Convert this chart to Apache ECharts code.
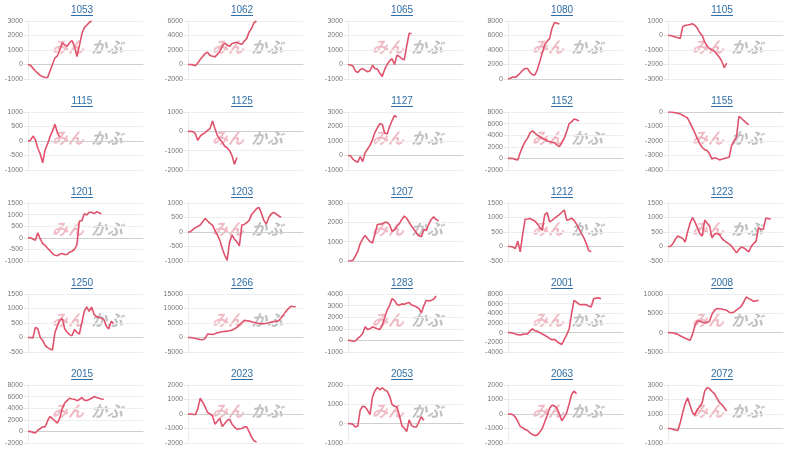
<!DOCTYPE html>
<html><head><meta charset="utf-8">
<script src="https://cdn.jsdelivr.net/npm/echarts/dist/echarts.min.js"></script>
<style>html,body{margin:0;padding:0;background:#fff}#c{width:800px;height:455px}</style>
</head><body><div id="c"></div>
<script>
const codes = ['1053','1062','1065','1080','1105','1115','1125','1127','1152','1155','1201','1203','1207','1212','1223','1250','1266','1283','2001','2008','2015','2023','2053','2063','2072'];
const slots = Array.from({length: 48}, (_, i) => String(i + 1));
const yMins  = [-1000,-2000,-1000,0,-3000, -1000,-2000,-1000,-2000,-4000, -1000,-1000,0,-500,-500, -500,-5000,-1000,-4000,-5000, -2000,-2000,-1000,-2000,-1000];
const yMaxs  = [3000,6000,3000,8000,1000, 1000,1000,3000,8000,0, 1500,1000,3000,1500,1500, 1500,15000,4000,8000,10000, 8000,2000,2000,2000,3000];
const ySteps = [1000,2000,1000,2000,1000, 500,1000,1000,2000,1000, 500,500,1000,500,500, 500,5000,1000,2000,5000, 2000,1000,1000,1000,1000];

const v1053 = [0,-50,-250,-450,-600,-750,-850,-900,-900,-450,0,450,600,1000,1500,1350,1250,1500,1650,1250,550,1300,2100,2550,2700,2900,3000];
const v1062 = [0,0,-50,-180,200,700,1100,1500,1700,1250,1150,1050,1400,1800,2500,2950,2700,2500,2900,3000,3050,2900,2800,3200,3600,4500,5000,5800,6000];
const v1065 = [0,-30,-100,-450,-550,-350,-280,-400,-500,-430,-50,-280,-320,-600,-820,-320,0,250,400,0,640,550,400,320,1280,2150,2120];
const v1080 = [0,100,300,200,500,830,1200,1450,1440,900,600,550,1300,2400,3600,4760,5200,5600,7000,7800,7700,7580];
const v1105 = [0,0,-50,-100,-150,-200,600,700,720,760,810,700,500,180,0,-460,-740,-900,-1000,-1090,-1300,-1500,-1780,-2220,-1900];
const v1115 = [0,20,170,50,-250,-450,-750,-300,-100,150,345,575,290,130];
const v1125 = [0,0,-20,-120,-470,-250,-150,-70,50,140,540,150,-210,-400,-560,-770,-850,-1000,-1260,-1700,-1350];
const v1127 = [0,-20,-250,-380,-460,-70,-420,200,450,700,1080,1590,1900,2190,2150,1550,1480,2000,2400,2750,2660];
const v1152 = [0,0,-30,-200,-290,1000,2030,2900,3500,4400,4750,4350,4000,3770,3400,3300,3000,2900,2750,2720,2300,2030,2700,3500,4640,6000,6300,6780,6670,6430];
const v1155 = [0,0,-20,-50,-90,-130,-220,-320,-415,-750,-1100,-1450,-1850,-2200,-2450,-2600,-2660,-2900,-3250,-3150,-3200,-3300,-3260,-3210,-3150,-3120,-2300,-2000,-1700,-300,-430,-600,-750,-880];
const v1201 = [0,0,-50,-110,220,-50,-250,-330,-450,-550,-680,-750,-770,-710,-680,-720,-720,-620,-580,-500,-300,725,725,1040,980,1100,1100,1040,1120,1080,1040];
const v1203 = [0,10,80,150,190,240,350,470,380,300,240,60,-100,-280,-570,-800,-980,-340,-100,-250,-340,-480,240,260,320,400,600,700,800,850,650,400,270,500,620,680,620,560,510];
const v1207 = [0,10,35,250,500,900,1150,1320,1150,1000,930,1400,1890,1900,1930,2000,2000,1860,1540,1600,1800,1930,2150,2330,2200,2000,1800,1630,1450,1300,1250,1630,1580,1900,2150,2280,2150,2070];
const v1212 = [0,0,-20,-70,186,-186,420,940,950,965,920,880,780,650,560,1090,1170,850,900,975,1040,1100,1180,1260,910,930,980,900,770,620,450,300,100,-140,-186];
const v1223 = [0,0,100,250,360,320,280,150,500,800,1000,850,650,450,360,910,800,710,300,420,460,420,280,200,140,80,10,-100,-220,-100,-20,-50,-120,-186,0,100,186,650,590,600,980,960,950];
const v1250 = [0,0,-20,350,300,0,-100,-270,-350,-400,-430,170,400,600,650,300,180,100,60,270,180,115,520,900,1060,900,1050,800,720,700,660,620,400,290,560,480];
const v1266 = [0,0,-200,-350,-500,-700,-800,-300,1150,1100,1040,1300,1600,1800,1960,2100,2190,2350,2540,3000,3500,4400,5100,5900,5800,5650,5400,5200,5000,4850,4800,4730,4900,5080,5300,5540,5650,5770,6700,7800,9000,9900,10800,10700,10620];
const v1283 = [0,0,-80,-50,170,350,600,1170,950,1000,1170,1080,1000,940,1300,2000,2600,3000,3600,3450,3100,3030,3150,3120,3200,3260,3050,2980,2880,2740,2370,3000,3460,3400,3450,3540,3830];
const v2001 = [0,0,-100,-280,-400,-490,-350,-280,-280,400,760,410,300,0,-280,-550,-830,-1200,-1460,-1390,-1800,-2200,-2430,-1400,-400,760,4000,6680,6330,5900,5770,5840,5770,5500,5290,7020,7150,7230,7020];
const v2008 = [0,0,-100,-250,-430,-800,-1120,-1450,-1700,-1980,-500,1800,3020,3020,2700,2590,2590,3000,4800,5800,6210,6200,6120,5950,5780,5300,5170,5340,5900,6300,6900,8000,9220,8800,8500,8100,8250,8360];
const v2015 = [0,0,-170,-290,200,460,800,760,1800,2570,2200,1800,1430,2290,3900,4900,5310,5710,5600,5540,5300,5500,5830,5400,5310,5500,5700,6000,5850,5710,5600,5540];
const v2023 = [0,0,-20,-50,350,1090,800,500,100,0,-120,-700,-500,-300,-860,-650,-450,-350,-700,-900,-1050,-1020,-1000,-900,-880,-1230,-1600,-1850,-1930];
const v2053 = [0,0,-35,-170,-120,700,900,870,690,470,1380,1700,1870,1750,1850,1750,1680,1430,1000,900,870,430,-100,-230,-400,200,-100,-170,-170,100,350,170];
const v2063 = [0,0,-50,-210,-500,-850,-950,-1070,-1140,-1300,-1420,-1490,-1440,-1250,-1000,-560,-100,400,600,560,400,0,-470,-210,100,700,1350,1580,1400];
const v2072 = [0,0,-50,-100,-140,390,1100,1700,2120,1600,1100,920,1320,1500,1800,2580,2820,2750,2550,2400,2100,1800,1650,1430,1200];

const seriesValues = [v1053,v1062,v1065,v1080,v1105,v1115,v1125,v1127,v1152,v1155,v1201,v1203,v1207,v1212,v1223,v1250,v1266,v1283,v2001,v2008,v2015,v2023,v2053,v2063,v2072];

const chart = echarts.init(document.getElementById('c'), null, {renderer: 'canvas'});
const grids = [], xAxes = [], yAxes = [], series = [], titles = [], graphics = [];
const FONT = 'Liberation Sans, Arial, sans-serif';
codes.forEach((code, i) => {
  const r = Math.floor(i / 5), c = i % 5;
  const gl = 28 + 160 * c, gt = 21 + 91 * r, gw = 115, gh = 58;
  grids.push({left: gl, top: gt, width: gw, height: gh, containLabel: false});
  xAxes.push({type: 'category', gridIndex: i, data: slots, boundaryGap: false,
    axisLabel: {show: false}, axisTick: {show: false},
    axisLine: {show: true, lineStyle: {color: '#cfcfcf', width: 1}}, splitLine: {show: false}});
  yAxes.push({type: 'value', gridIndex: i, min: yMins[i], max: yMaxs[i], interval: ySteps[i],
    axisLine: {show: true, lineStyle: {color: '#ececec'}},
    axisTick: {show: true, length: 4, lineStyle: {color: '#e6e6e6'}},
    splitLine: {lineStyle: {color: '#eeeeee'}},
    axisLabel: {fontSize: 7, color: '#777', margin: 5, fontFamily: FONT, formatter: v => String(v)}});
  series.push({type: 'line', xAxisIndex: i, yAxisIndex: i, data: seriesValues[i], showSymbol: false,
    lineStyle: {color: '#e0526c', width: 1.6}, itemStyle: {color: '#e0526c'}, z: 5, animation: false});
  const tx = 82 + 160 * c;
  titles.push({text: code, left: tx, top: 5 + 91 * r, textAlign: 'center', padding: 0,
    textStyle: {fontSize: 10, fontWeight: 'normal', color: '#2f6ea6', fontFamily: FONT}});
  graphics.push({type: 'line', shape: {x1: tx - 11, y1: 15.5 + 91 * r, x2: tx + 11, y2: 15.5 + 91 * r},
    style: {stroke: '#2f6ea6', lineWidth: 1}, silent: true});
  graphics.push({type: 'text', left: gl + 24, top: gt + 18, z: 0,
    style: {text: 'みん', fontSize: 16, fontWeight: 'bold', fontStyle: 'italic', fill: 'rgba(228,140,155,0.6)', fontFamily: 'Noto Sans CJK JP'}, silent: true});
  graphics.push({type: 'text', left: gl + 63, top: gt + 18, z: 0,
    style: {text: 'かぶ', fontSize: 16, fontWeight: 'bold', fontStyle: 'italic', fill: 'rgba(150,150,150,0.6)', fontFamily: 'Noto Sans CJK JP'}, silent: true});
});
chart.setOption({animation: false, backgroundColor: '#fff', title: titles, grid: grids, xAxis: xAxes, yAxis: yAxes, series: series, graphic: graphics});
</script></body></html>
